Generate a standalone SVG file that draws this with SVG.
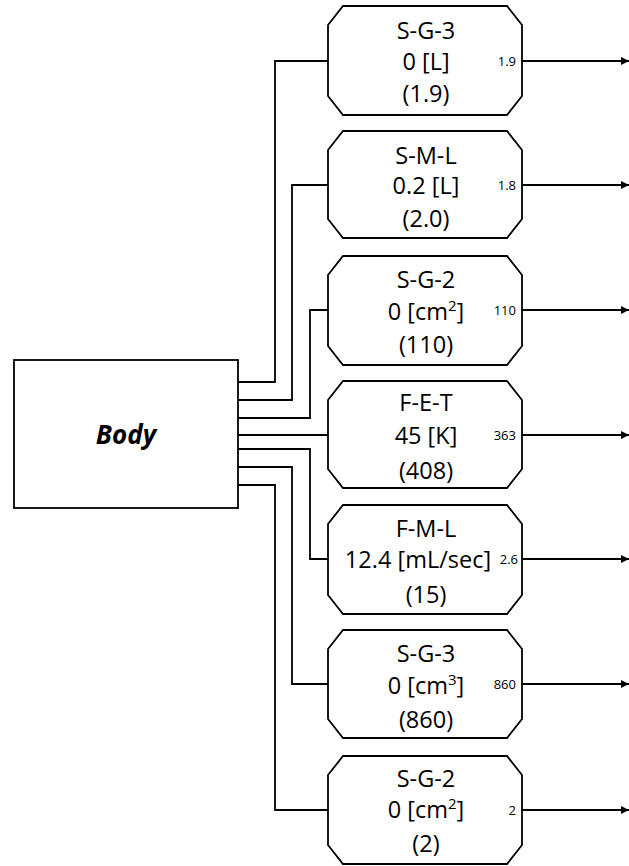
<svg xmlns="http://www.w3.org/2000/svg" width="629" height="866" viewBox="0 0 629 866">
<style>
.box{fill:#fff;stroke:#000;stroke-width:1.8}
.w{fill:none;stroke:#000;stroke-width:1.8}
.t{font-family:"Open Sans","Noto Sans",sans-serif;font-size:23.5px;fill:#000;text-anchor:middle}
.s{font-family:"Open Sans","Noto Sans",sans-serif;font-size:13px;fill:#000;text-anchor:end}
.b{font-family:"Open Sans","Noto Sans",sans-serif;font-size:26px;font-weight:bold;font-style:italic;fill:#000;text-anchor:middle}
</style>
<defs>
<marker id="ah" viewBox="0 0 8 8" refX="8" refY="4" markerWidth="8" markerHeight="8" markerUnits="userSpaceOnUse" orient="auto">
<path d="M0,0 L8,4 L0,8 z" fill="#000"/>
</marker>
</defs>
<g id="connectors">
<path class="w" d="M238,382 H275 V61 H328"/>
<path class="w" d="M238,400 H292 V185 H328"/>
<path class="w" d="M238,418 H310 V310 H328"/>
<path class="w" d="M238,435 H328"/>
<path class="w" d="M238,449 H310 V559 H328"/>
<path class="w" d="M238,467 H292 V684 H328"/>
<path class="w" d="M238,485 H275 V810 H328"/>
<path class="w" d="M522,61 H629" marker-end="url(#ah)"/>
<path class="w" d="M522,185 H629" marker-end="url(#ah)"/>
<path class="w" d="M522,310 H629" marker-end="url(#ah)"/>
<path class="w" d="M522,435 H629" marker-end="url(#ah)"/>
<path class="w" d="M522,559 H629" marker-end="url(#ah)"/>
<path class="w" d="M522,684 H629" marker-end="url(#ah)"/>
<path class="w" d="M522,810 H629" marker-end="url(#ah)"/>
</g>
<g id="body">
<rect class="box" x="14" y="360" width="224" height="148" stroke-width="2"/>
<text class="b" x="126" y="444">Body</text>
</g>
<g id="node1">
<polygon class="box" points="343,6 507,6 522,25 522,96 507,115 343,115 328,96 328,25"/>
<text class="t" x="426" y="39">S-G-3</text>
<text class="t" x="426" y="70">0 [L]</text>
<text class="t" x="426" y="102">(1.9)</text>
<text class="s" x="516" y="66">1.9</text>
</g>
<g id="node2">
<polygon class="box" points="343,131 507,131 522,150 522,219 507,238 343,238 328,219 328,150"/>
<text class="t" x="426" y="164">S-M-L</text>
<text class="t" x="426" y="194">0.2 [L]</text>
<text class="t" x="426" y="227">(2.0)</text>
<text class="s" x="516" y="190">1.8</text>
</g>
<g id="node3">
<polygon class="box" points="343,256 507,256 522,275 522,346 507,365 343,365 328,346 328,275"/>
<text class="t" x="426" y="288">S-G-2</text>
<text class="t" x="426" y="320">0 [cm<tspan font-size="15" dy="-9">2</tspan><tspan dy="9">]</tspan></text>
<text class="t" x="426" y="353">(110)</text>
<text class="s" x="516" y="315">110</text>
</g>
<g id="node4">
<polygon class="box" points="343,381 507,381 522,400 522,469 507,488 343,488 328,469 328,400"/>
<text class="t" x="426" y="411">F-E-T</text>
<text class="t" x="426" y="444">45 [K]</text>
<text class="t" x="426" y="479">(408)</text>
<text class="s" x="516" y="440">363</text>
</g>
<g id="node5">
<polygon class="box" points="343,505 507,505 522,524 522,595 507,614 343,614 328,595 328,524"/>
<text class="t" x="426" y="537">F-M-L</text>
<text class="t" x="418" y="568">12.4 [mL/sec]</text>
<text class="t" x="426" y="603">(15)</text>
<text class="s" x="518" y="564">2.6</text>
</g>
<g id="node6">
<polygon class="box" points="343,630 507,630 522,649 522,719 507,738 343,738 328,719 328,649"/>
<text class="t" x="426" y="662">S-G-3</text>
<text class="t" x="426" y="694">0 [cm<tspan font-size="15" dy="-9">3</tspan><tspan dy="9">]</tspan></text>
<text class="t" x="426" y="728">(860)</text>
<text class="s" x="516" y="689">860</text>
</g>
<g id="node7">
<polygon class="box" points="343,756 507,756 522,775 522,845 507,864 343,864 328,845 328,775"/>
<text class="t" x="426" y="787">S-G-2</text>
<text class="t" x="426" y="818">0 [cm<tspan font-size="15" dy="-9">2</tspan><tspan dy="9">]</tspan></text>
<text class="t" x="426" y="852">(2)</text>
<text class="s" x="516" y="815">2</text>
</g>
</svg>
